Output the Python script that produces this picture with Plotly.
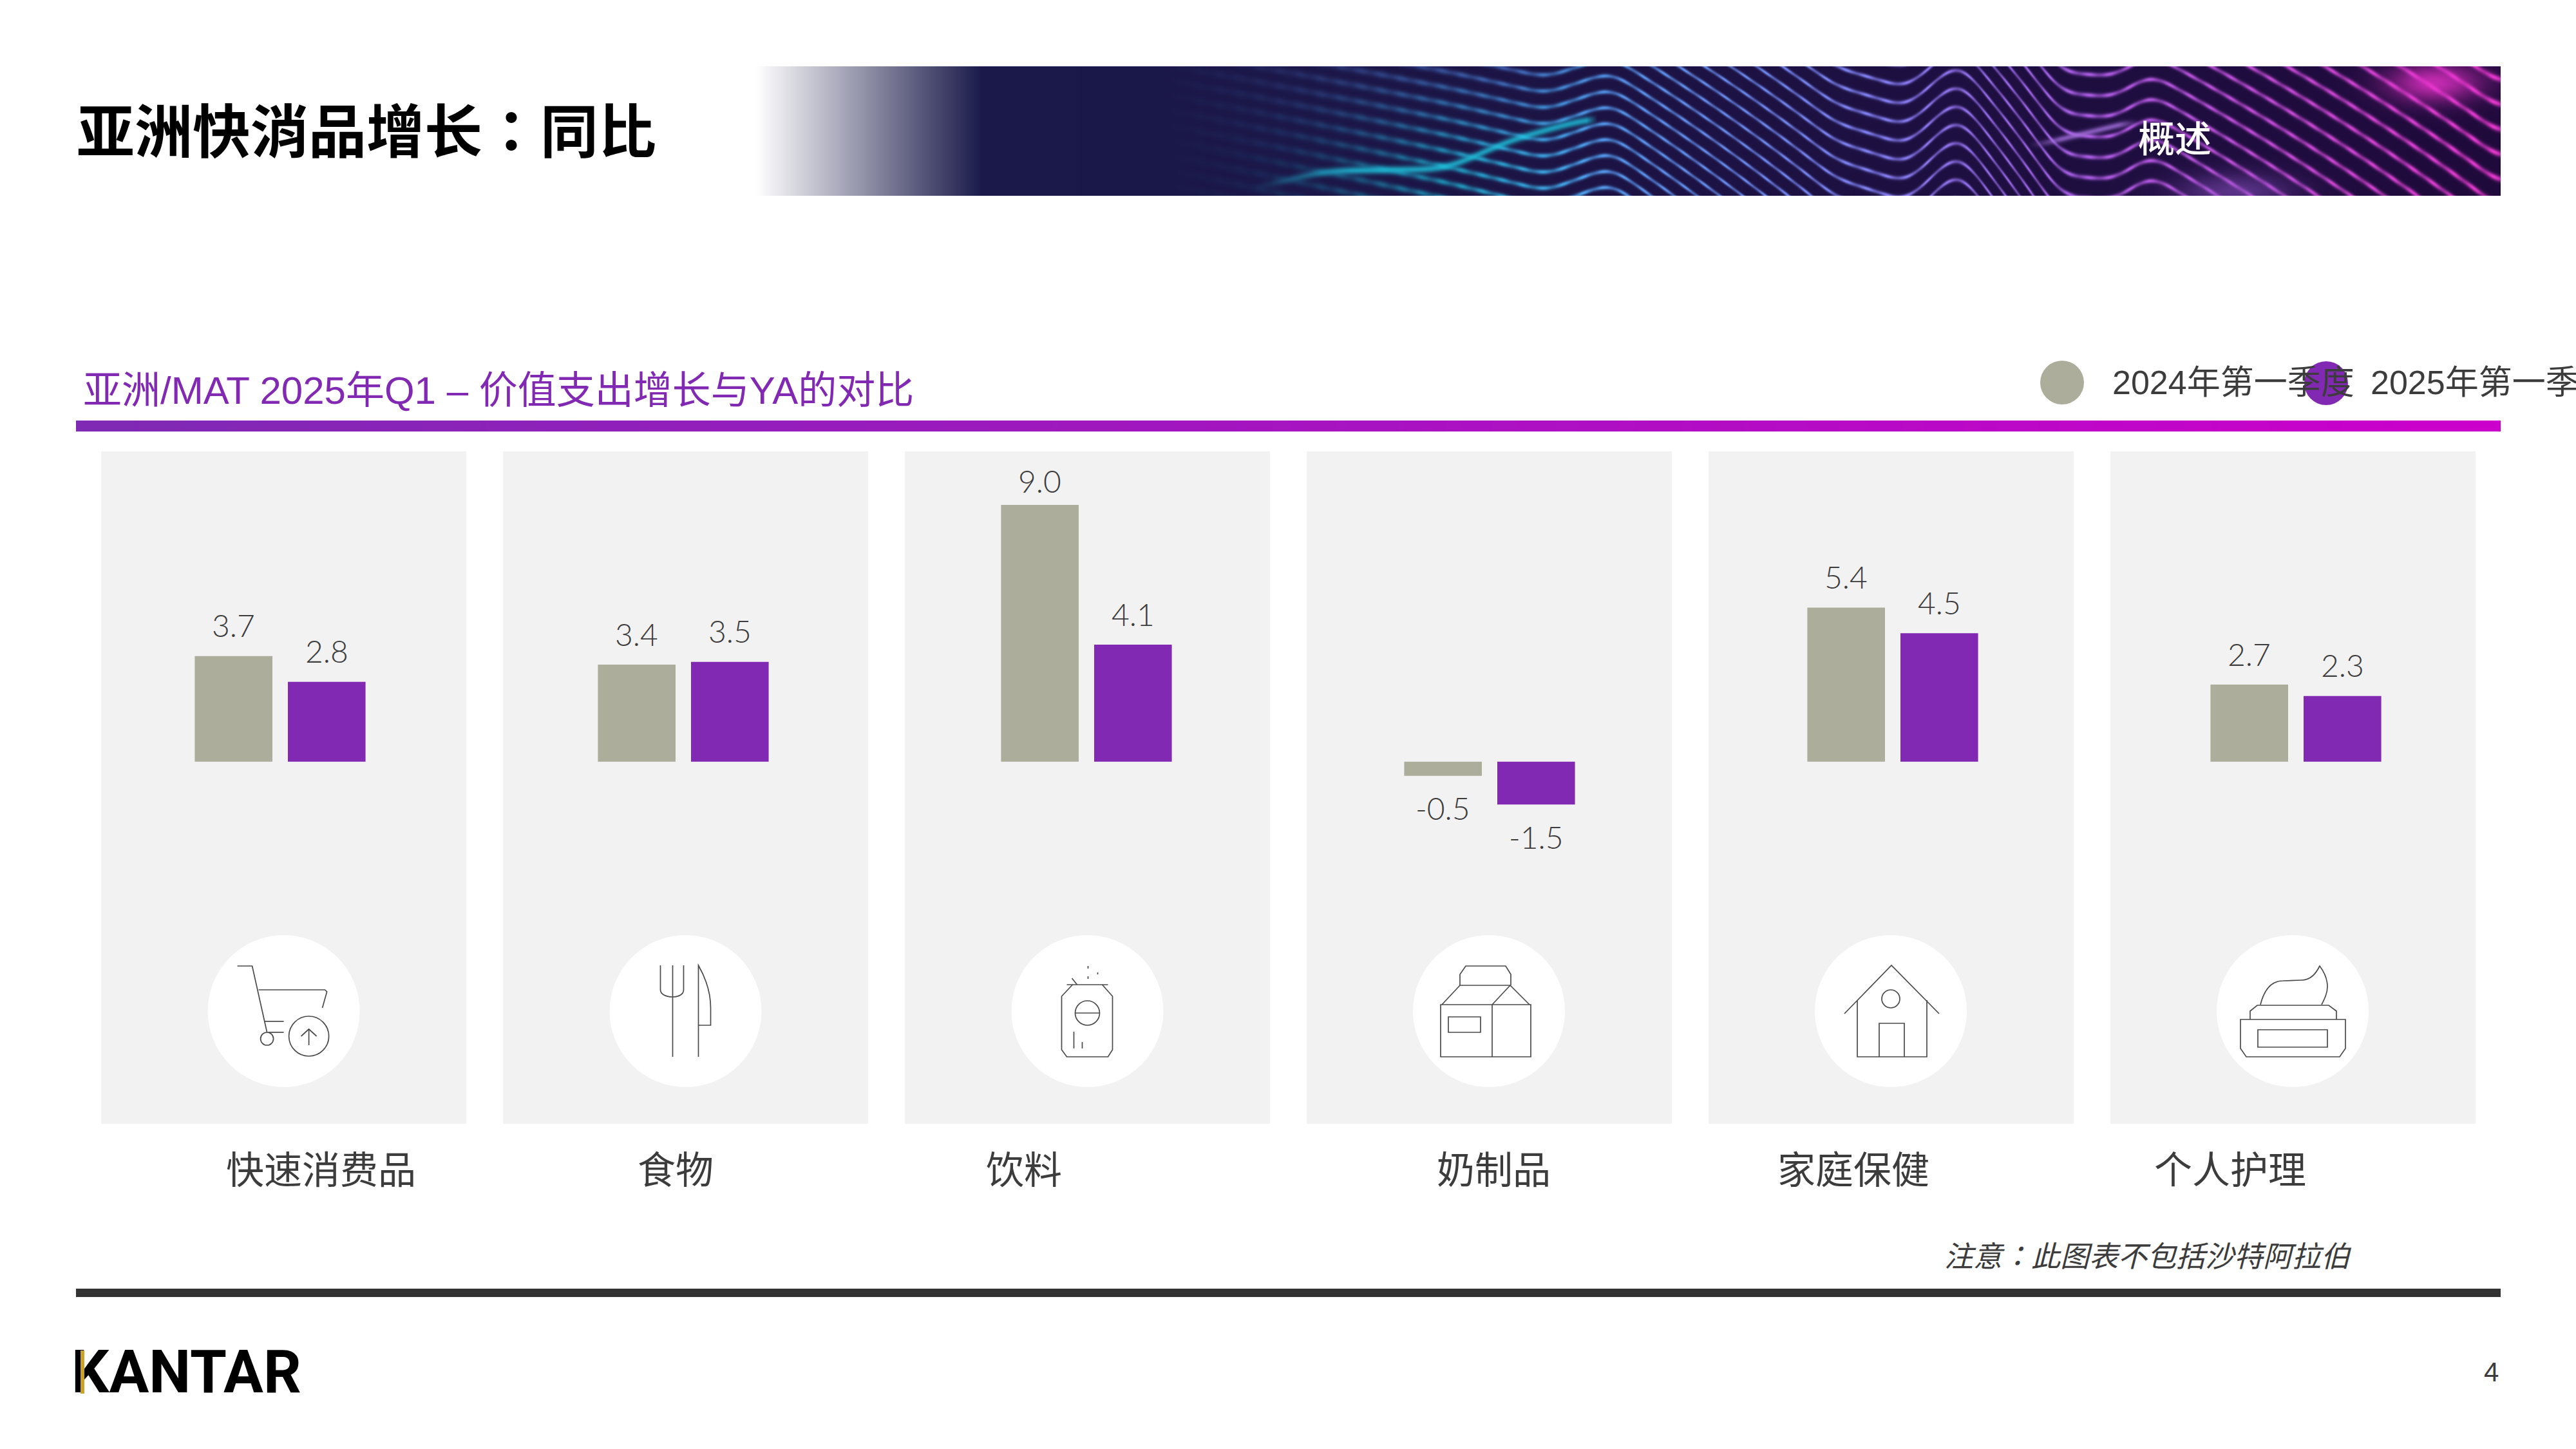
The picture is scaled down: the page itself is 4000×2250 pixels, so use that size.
import base64
import struct
import zlib

import numpy as np
import plotly.graph_objects as go

categories = ["快速消费品", "食物", "饮料", "奶制品", "家庭保健", "个人护理"]
series_names = ["2024年第一季度", "2025年第一季度"]
values_2024 = [3.7, 3.4, 9.0, -0.5, 5.4, 2.7]
values_2025 = [2.8, 3.5, 4.1, -1.5, 4.5, 2.3]

W, H = 4000, 2250
GREY = "#adad9c"
PURPLE = "#8229b3"
TEXT = "#3c3c3c"
CJK = "Noto Sans CJK SC"
CJK_COLON = "Noto Sans CJK TC"  # full width colon sits centred in this one, as in the original
ARIAL_CJK = "Liberation Sans, Noto Sans CJK SC"

# where the category labels sit under the panels (not centred in the original)
cat_label_x = [498, 1049, 1590, 2319, 2878, 3463]
panel_left = [157, 781, 1405, 2029, 2653, 3277]
circle_x = [440.6, 1064.5, 1688.5, 2312, 2936, 3560]

# icons, in pixels around the centre of their circle
cart = ["M-72 -70 L-49 -70 L-26 33", "M-39 -33 L64 -33 L67 -30 L60 -5", "M-30 16 L0 16", "M-24 33 L0 33",
        "M39 28 L39 53", "M27 39 L39 28 L51 39"]
fork = ["M-39 -71 L-39 -33 C-39 -27 -32 -22 -20 -22 C-9 -22 -3 -27 -3 -33 L-3 -71", "M-20 -71 L-20 71",
        "M20 71 L20 -71 C32 -50 39 -30 39 -5 L39 22 L20 22"]
bottle = ["M-32 -41 L32 -41", "M-23 -41 L-40 -23 L-40 60 L-32 71 L32 71 L39 60 L39 -23 L23 -41", "M-19 3 L19 3",
          "M-21 32 L-21 58", "M-8 48 L-8 58", "M-24 -51 L-16 -41", "M1 -70 L1 -66", "M16 -60 L16 -57", "M1 -54 L1 -50"]
carton = ["M-75 -10 L65 -10 L65 71 L-75 71 Z", "M5 -10 L5 71", "M-63 9 L-13 9 L-13 33 L-63 33 Z",
          "M-73 -10 L-45 -40 L33 -40 L63 -10", "M5 -10 L33 -40", "M-45 -40 L-45 -57 L-36 -70 L26 -70 L34 -57 L34 -40"]
house = ["M-72 4 L1 -71 L75 4", "M-52 -17 L-52 71 L56 71 L56 -17", "M-18 71 L-18 19 L21 19 L21 71"]
jar = ["M-81 13 L82 13 L82 58 L73 71 L-72 71 L-81 58 Z", "M-54 29 L54 29 L54 56 L-54 56 Z",
       "M-66 13 L-66 0 L-55 -9 L56 -9 L68 0 L68 13",
       "M-50 -10 C-45 -30 -35 -47 -15 -47 L13 -48 C28 -48 36 -58 42 -70 C48 -62 54 -50 54 -38 C54 -28 50 -20 45 -10"]
icons = [cart, fork, bottle, carton, house, jar]
# ovals inside the icons: icon number, x, y, radius
icon_rings = [(0, -26, 43, 10), (0, 39, 39, 31), (2, 0, 3, 19), (4, 0, -19, 14)]


def px(x):
    return x / W


def py(y):
    return 1 - y / H


def png_uri(img):
    # img is h x w x 3 uint8
    h, w, _ = img.shape
    raw = b"".join(b"\x00" + img[r].tobytes() for r in range(h))

    def chunk(tag, data):
        return struct.pack(">I", len(data)) + tag + data + struct.pack(">I", zlib.crc32(tag + data))

    out = b"\x89PNG\r\n\x1a\n" + chunk(b"IHDR", struct.pack(">IIBBBBB", w, h, 8, 2, 0, 0, 0))
    out += chunk(b"IDAT", zlib.compress(raw, 9)) + chunk(b"IEND", b"")
    return "data:image/png;base64," + base64.b64encode(out).decode()


def smooth(a, n=41, times=2):
    kernel = np.ones(n) / n
    for _ in range(times):
        a = np.convolve(np.pad(a, n // 2, mode="edge"), kernel, mode="valid")
    return a


def blend(img, alpha, color):
    alpha = alpha[:, :, None]
    return img * (1 - alpha) + np.array(color) * alpha


def banner_texture():
    # decoration only: a rough redraw of the stock photo behind the header
    bw, bh = 2709, 201
    xs = np.arange(bw) + 1174.0
    ys = np.arange(bh) + 0.0
    xx, yy = np.meshgrid(xs, ys)
    # how far the wave lines have dropped at each x
    ctrl_x = [1700, 2250, 2400, 2500, 2850, 2960, 3040, 3200, 3280, 3340, 3900]
    ctrl_y = [0, 100, 130, 100, 300, 325, 270, 420, 425, 400, 620]
    drop = smooth(np.interp(xs, ctrl_x, ctrl_y))
    spacing = 23.0
    d = ((yy - drop[None, :] * (1 + yy / 1500)) / spacing + 0.5) % 1 - 0.5
    width = np.interp(xx, [1850, 2350, 2700, 3883], [7, 3.6, 2.4, 2.8])
    stripes = np.exp(-(d * spacing / width) ** 2) * (0.82 + 0.18 * np.sin(xx / 5.0))
    fade = np.interp(xx, [1800, 2000, 2450], [0, 0.22, 1])
    cx = [1850, 2250, 2500, 2900, 3250, 3600, 3883]
    line = np.stack([np.interp(xx, cx, [20, 30, 85, 130, 170, 200, 230]),
                     np.interp(xx, cx, [70, 205, 150, 130, 90, 70, 55]),
                     np.interp(xx, cx, [120, 235, 235, 245, 225, 210, 205])], axis=2)
    # above the ridge the left part is a duller blue
    dull = np.clip(1 - yy / 150, 0, 1) * np.clip((2550 - xx) / 200, 0, 1)
    line = line * (1 - dull[:, :, None]) + np.array([70, 105, 190]) * dull[:, :, None]
    base = np.stack([np.interp(xx, [1525, 3883], [26, 32]),
                     np.interp(xx, [1525, 3883], [26, 10]),
                     np.interp(xx, [1525, 3883], [74, 60])], axis=2)
    a = (stripes * fade)[:, :, None]
    img = base * (1 - a) + line * a
    # cyan and violet ridge, plus the two glows at the right
    ry = smooth(np.interp(xs, [1947, 2055, 2246, 2342, 2463], [189, 162, 159, 115, 81]), 61)
    ridge = np.exp(-((yy - ry[None, :]) / 6) ** 2) * np.interp(xx, [1947, 2100, 2463, 2480], [0, 0.75, 0.75, 0])
    img = blend(img, ridge, [30, 200, 225])
    ry = smooth(np.interp(xs, [3165, 3305], [121, 87]), 31)
    ridge = np.exp(-((yy - ry[None, :]) / 5) ** 2) * np.interp(xx, [3150, 3200, 3290, 3320], [0, 0.7, 0.7, 0])
    img = blend(img, ridge, [175, 120, 235])
    img = blend(img, 0.8 * np.exp(-(((xx - 3780) / 70) ** 2 + ((yy - 25) / 30) ** 2)), [235, 50, 205])
    img = blend(img, 0.5 * np.exp(-(((xx - 3470) / 90) ** 2 + ((yy - 195) / 30) ** 2)), [150, 90, 210])
    # white to navy on the left
    left = np.clip((xx - 1174) / (1525 - 1174), 0, 1)
    img = blend(img, 1 - left, [255, 255, 255])
    return np.clip(img, 0, 255).astype(np.uint8)


def bar_texture():
    bw, bh = 3765, 17
    t = np.linspace(0, 1, bw)[None, :, None]
    img = np.array([127, 42, 181]) * (1 - t) + np.array([204, 0, 204]) * t
    return np.repeat(img, bh, axis=0).astype(np.uint8)


def rect(x0, y0, x1, y1, color, layer="below"):
    return dict(type="rect", xref="paper", yref="paper", x0=px(x0), x1=px(x1), y0=py(y1), y1=py(y0),
                fillcolor=color, line_width=0, layer=layer)


def ring(cx, cy, r, fill=None, line=None, width=0):
    return dict(type="circle", xref="paper", yref="paper", x0=px(cx - r), x1=px(cx + r), y0=py(cy + r), y1=py(cy - r),
                fillcolor=fill if fill else "rgba(0,0,0,0)", line=dict(color=line, width=width), layer="above")


def icon_path(cx, cy, d):
    out = []
    nums = []
    for tok in d.split():
        if tok == "Z":
            out.append("Z")
            continue
        if tok[0].isalpha():
            out.append(tok[0])
            tok = tok[1:]
        nums.append(float(tok))
        if len(nums) == 2:
            out.append(f"{px(cx + nums[0]):.6f},{py(cy + nums[1]):.6f}")
            nums = []
    return dict(type="path", xref="paper", yref="paper", path=" ".join(out), layer="above",
                line=dict(color="#4a4a4a", width=1.7))


def label(x, y, text, size, color=TEXT, family=ARIAL_CJK, anchor="center", weight=None):
    return dict(xref="paper", yref="paper", x=px(x), y=py(y), text=text, showarrow=False, xanchor=anchor,
                yanchor="middle", borderpad=0, font=dict(size=size, color=color, family=family, weight=weight))


fig = go.Figure()
fig.add_trace(go.Bar(x=categories, y=values_2024, name=series_names[0], marker_color=GREY, marker_line_width=0))
fig.add_trace(go.Bar(x=categories, y=values_2025, name=series_names[1], marker_color=PURPLE, marker_line_width=0))
# logo goes in as a trace so the gold stripe (a shape) can lie on top of the K
fig.add_trace(go.Scatter(x=[111], y=[2139], mode="text", text=["KANTAR"], textposition="middle right",
                         textfont=dict(size=92, color="black", family="Roboto", weight=700),
                         xaxis="x2", yaxis="y2", cliponaxis=False, hoverinfo="skip"))

shapes = []
for left in panel_left:
    shapes.append(rect(left, 701, left + 567, 1745, "#f2f2f2"))
for cx in circle_x:
    shapes.append(ring(cx, 1570, 118, fill="white", line="white", width=0))
for cx, icon in zip(circle_x, icons):
    for d in icon:
        shapes.append(icon_path(cx, 1570, d))
for n, dx, dy, r in icon_rings:
    shapes.append(ring(circle_x[n] + dx, 1570 + dy, r, line="#4a4a4a", width=1.7))
shapes.append(rect(118, 2001, 3883, 2014, "#333333"))
shapes.append(ring(3202, 594, 34, fill=GREY, line=GREY, width=0))
shapes.append(ring(3612, 595, 34, fill=PURPLE, line=PURPLE, width=0))
shapes.append(rect(125, 2097, 131, 2164, "#c9a227", layer="above"))

annotations = [
    label(118, 198, "亚洲快消品增长：同比", 90, color="black", family=CJK_COLON, anchor="left", weight=700),
    label(3377, 211, "概述", 57, color="white", family=CJK, weight=500),
    label(128, 606, "亚洲/MAT 2025年Q1 – 价值支出增长与YA的对比", 60, color=PURPLE, anchor="left"),
    label(3279, 594, series_names[0], 52, anchor="left"),
    label(3680, 594, series_names[1], 52, anchor="left"),
    label(3335, 1947, "<i>注意：此图表不包括沙特阿拉伯</i>", 45, family=CJK_COLON),
    label(3868, 2130, "4", 42),
]
for x, text in zip(cat_label_x, categories):
    annotations.append(label(x, 1812, text, 59, family=CJK))

# value labels float clear of the bars; the 9.0 is squeezed under the panel top
slot = 0.231
for i in range(len(categories)):
    for offset, val in ((-slot / 2, values_2024[i]), (slot / 2, values_2025[i])):
        shift = 38 if val == 9.0 else 48
        annotations.append(dict(xref="x", yref="y", x=i + offset, y=val, text=f"{val:.1f}", showarrow=False,
                                yanchor="middle", yshift=shift if val > 0 else -50,
                                font=dict(size=48, color=TEXT, family="Lato", weight=300)))

images = [
    dict(source=png_uri(banner_texture()), xref="paper", yref="paper", x=px(1174), y=py(103), sizex=2709 / W,
         sizey=201 / H, sizing="stretch", layer="below"),
    dict(source=png_uri(bar_texture()), xref="paper", yref="paper", x=px(118), y=py(653), sizex=3765 / W,
         sizey=17 / H, sizing="stretch", layer="below"),
]

y_per_unit = 44.3
x_per_cat = 626
fig.update_layout(
    width=W, height=H, autosize=False,
    margin=dict(l=0, r=0, t=0, b=0),
    paper_bgcolor="white", plot_bgcolor="rgba(0,0,0,0)",
    barmode="group", bargap=0.538, bargroupgap=0.166,
    showlegend=False,
    shapes=shapes, annotations=annotations, images=images,
    xaxis=dict(visible=False, type="category", categoryorder="array", categoryarray=categories,
               range=[-435 / x_per_cat, (W - 435) / x_per_cat]),
    yaxis=dict(visible=False, range=[-(H - 1182.7) / y_per_unit, 1182.7 / y_per_unit]),
    xaxis2=dict(visible=False, overlaying="x", range=[0, W]),
    yaxis2=dict(visible=False, overlaying="y", range=[H, 0]),
)

# browser default body margin would push the whole page 8px down and right
fig.write_html("out.html", config={"displayModeBar": False}, post_script="document.body.style.margin='0';")
